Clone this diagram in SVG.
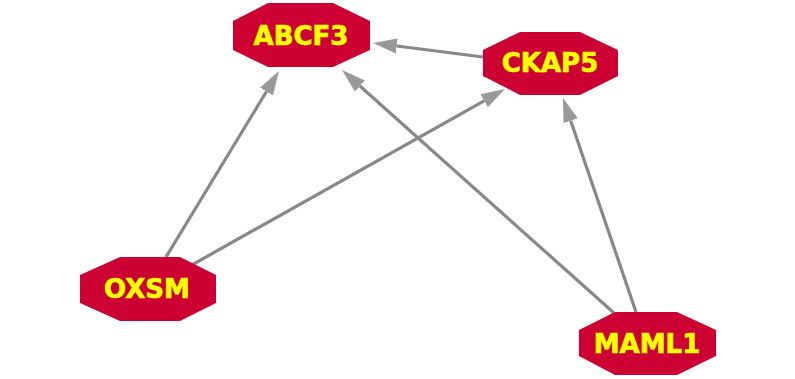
<svg xmlns="http://www.w3.org/2000/svg" width="795" height="379" viewBox="0 0 795 379">
  <defs>
    <style>
      .node { fill: #cc0033; stroke: none; }
      .label { fill: #ffff00; stroke: #ffff00; stroke-width: 0.7; font-family: "DejaVu Sans", Verdana, sans-serif; font-weight: bold; font-size: 26px; text-anchor: middle; }
      .edge { stroke: #888888; stroke-width: 3.2; fill: none; marker-end: url(#arrow); }
    </style>
    <marker id="arrow" markerUnits="userSpaceOnUse" markerWidth="26" markerHeight="18" viewBox="0 -9 26 18" refX="0" refY="0" orient="auto">
      <path d="M0,-7.5 L24,0 L0,7.5 z" fill="#999999"/>
    </marker>
  </defs>
  <rect width="795" height="379" fill="#ffffff"/>

  <g id="edges">
    <line class="edge" x1="483" y1="57" x2="396.8" y2="46"/>
    <line class="edge" x1="166" y1="257" x2="266.5" y2="91.5"/>
    <line class="edge" x1="614" y1="313" x2="359.9" y2="86"/>
    <line class="edge" x1="190" y1="266" x2="484.1" y2="100.8"/>
    <line class="edge" x1="636" y1="312" x2="570.7" y2="120.7"/>
  </g>

  <g id="ABCF3">
    <polygon class="node" points="268,3 333,3 370,21 370,50 333,67 268,67 233,50 233,21"/>
    <text class="label" x="301" y="45">ABCF3</text>
  </g>
  <g id="CKAP5">
    <polygon class="node" points="520,32 580,32 618,50 618,76 580,95 520,95 483,76 483,50"/>
    <text class="label" x="550" y="72">CKAP5</text>
  </g>
  <g id="OXSM">
    <polygon class="node" points="120,257 180,257 216,275 216,303 180,321 120,321 80,303 80,275"/>
    <text class="label" x="147" y="298">OXSM</text>
  </g>
  <g id="MAML1">
    <polygon class="node" points="615,312 677,312 716,330 716,356 677,375 615,375 579,356 579,330"/>
    <text class="label" x="647" y="353">MAML1</text>
  </g>
</svg>
